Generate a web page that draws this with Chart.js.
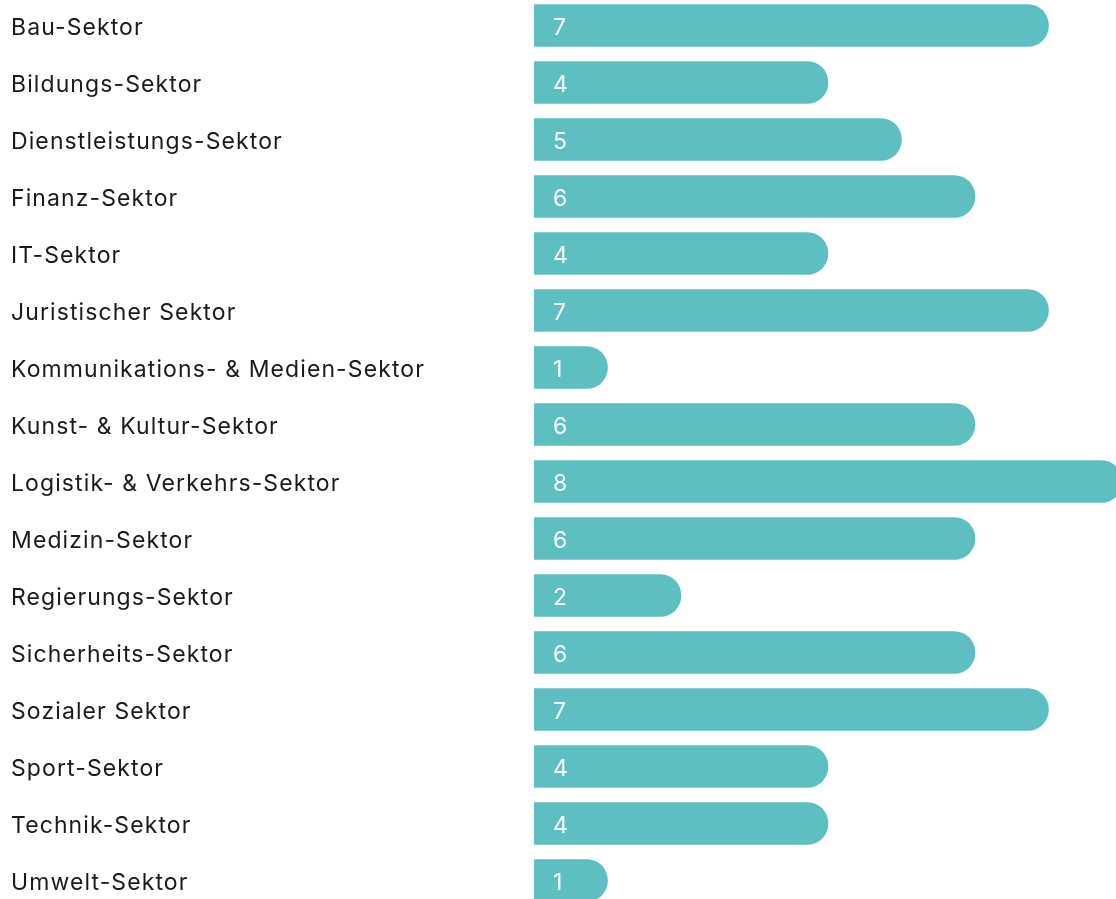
<!DOCTYPE html>
<html>
<head>
<meta charset="utf-8">
<script src="https://cdn.jsdelivr.net/npm/chart.js@4"></script>
<style>
  html, body { margin: 0; padding: 0; background: #fff; overflow: hidden; }
  #wrap { position: absolute; left: 0; top: -3px; width: 1122px; height: 912px; }
</style>
</head>
<body>
<div id="wrap"><canvas id="chart"></canvas></div>
<script>
// sectors and counts
const sectors = [
    'Bau-Sektor', 'Bildungs-Sektor', 'Dienstleistungs-Sektor', 'Finanz-Sektor',
    'IT-Sektor', 'Juristischer Sektor', 'Kommunikations- & Medien-Sektor',
    'Kunst- & Kultur-Sektor', 'Logistik- & Verkehrs-Sektor', 'Medizin-Sektor',
    'Regierungs-Sektor', 'Sicherheits-Sektor', 'Sozialer Sektor', 'Sport-Sektor',
    'Technik-Sektor', 'Umwelt-Sektor'
];
const counts = [7, 4, 5, 6, 4, 7, 1, 6, 8, 6, 2, 6, 7, 4, 4, 1];

const FONT = 'Inter, "Open Sans", sans-serif';
const BAR_COLOR = '#5ebfc2';

// the original font runs wider, so space the letters a little
const spacing = {
    id: 'spacing',
    beforeDraw(chart) { chart.ctx.letterSpacing = '1.1px'; }
};

// white value labels just inside the start of each bar
const valueLabels = {
    id: 'valueLabels',
    afterDatasetsDraw(chart) {
        const ctx = chart.ctx;
        const meta = chart.getDatasetMeta(0);
        ctx.save();
        ctx.fillStyle = '#ffffff';
        ctx.font = '23px ' + FONT;
        ctx.textAlign = 'left';
        ctx.textBaseline = 'middle';
        meta.data.forEach((bar, i) => {
            ctx.fillText(String(counts[i]), bar.base + 19, bar.y + 3);
        });
        ctx.restore();
    }
};

new Chart(document.getElementById('chart'), {
    type: 'bar',
    data: {
        labels: sectors,
        datasets: [{
            data: counts,
            backgroundColor: BAR_COLOR,
            borderWidth: 0,
            borderRadius: 21,
            borderSkipped: 'start',
            barThickness: 42
        }]
    },
    options: {
        indexAxis: 'y',
        responsive: true,
        maintainAspectRatio: false,
        animation: false,
        layout: { padding: { left: 11, right: 0, top: 0, bottom: 0 } },
        plugins: { legend: { display: false }, tooltip: { enabled: false } },
        scales: {
            x: { display: false, min: 0, max: 8 },
            y: {
                grid: { display: false },
                border: { display: false },
                afterFit: (scale) => {
                    scale.width = 523;
                    scale.paddingTop = 0;
                    scale.paddingBottom = 0;
                },
                ticks: {
                    crossAlign: 'far',
                    color: '#1a1a1a',
                    font: { family: FONT, size: 23 },
                    padding: 0,
                    labelOffset: 3
                }
            }
        }
    },
    plugins: [spacing, valueLabels]
});
</script>
</body>
</html>
